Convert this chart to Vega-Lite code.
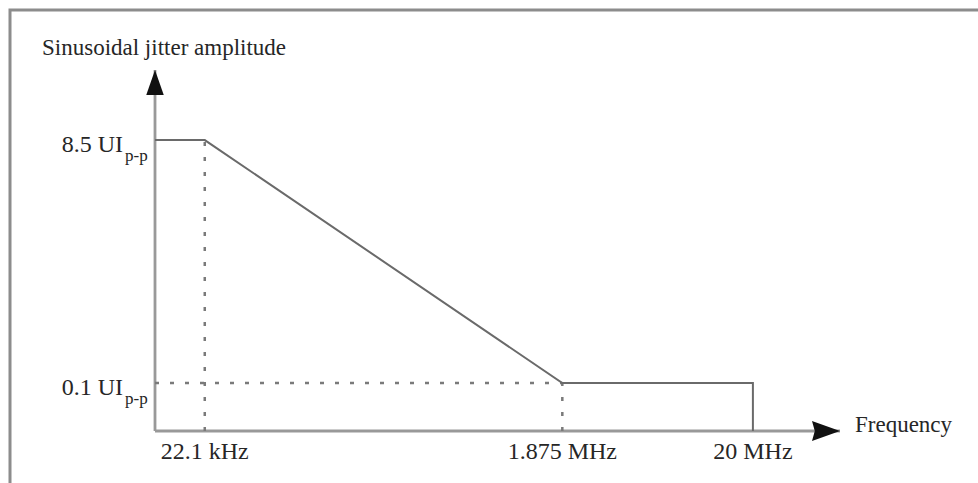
{
  "$schema": "https://vega.github.io/schema/vega-lite/v6.json",
  "width": 968,
  "height": 473,
  "autosize": {"type": "none"},
  "padding": {"left": 10, "top": 10, "right": 0, "bottom": 0},
  "background": "white",
  "config": {
    "view": {"stroke": "#8c8c8c", "strokeWidth": 3, "strokeDash": [968, 1441, 473], "strokeCap": "square"},
    "text": {"font": "Liberation Serif", "fill": "#262626"}
  },
  "datasets": {
    "axes": [
      {"f": 11912, "a": 0.0416, "f2": 11912, "a2": 30.6},
      {"f": 11912, "a": 0.0416, "f2": 59000000, "a2": 0.0416}
    ],
    "guides": [
      {"f": 22100, "a": 0.0416, "f2": 22100, "a2": 8.5},
      {"f": 11912, "a": 0.1, "f2": 1875000, "a2": 0.1},
      {"f": 1875000, "a": 0.0416, "f2": 1875000, "a2": 0.1}
    ],
    "mask": [
      {"i": 0, "f": 11912, "a": 8.5},
      {"i": 1, "f": 22100, "a": 8.5},
      {"i": 2, "f": 1875000, "a": 0.1},
      {"i": 3, "f": 20000000, "a": 0.1},
      {"i": 4, "f": 20000000, "a": 0.0416}
    ],
    "ytip": [{"f": 11912, "a": 30.6}],
    "xtip": [{"f": 59000000, "a": 0.0416}],
    "ylabels": [
      {"f": 11912, "a": 8.5, "main": "8.5 UI", "sub": "p-p"},
      {"f": 11912, "a": 0.1, "main": "0.1 UI", "sub": "p-p"}
    ],
    "xlabels": [
      {"f": 22100, "a": 0.0416, "label": "22.1 kHz"},
      {"f": 1875000, "a": 0.0416, "label": "1.875 MHz"},
      {"f": 20000000, "a": 0.0416, "label": "20 MHz"}
    ],
    "ytitle": [{"f": 11912, "a": 30.6, "label": "Sinusoidal jitter amplitude"}],
    "xtitle": [{"f": 59000000, "a": 0.0416, "label": "Frequency"}]
  },
  "encoding": {
    "x": {"field": "f", "type": "quantitative", "scale": {"type": "log", "domain": [11912, 59000000], "range": [145, 830], "nice": false}, "axis": null},
    "y": {"field": "a", "type": "quantitative", "scale": {"type": "log", "domain": [0.0416, 30.6], "range": [421, 60], "nice": false}, "axis": null}
  },
  "layer": [
    {
      "data": {"name": "axes"},
      "mark": {"type": "rule", "color": "#999999", "strokeWidth": 2.8},
      "encoding": {"x2": {"field": "f2"}, "y2": {"field": "a2"}}
    },
    {
      "data": {"name": "guides"},
      "mark": {"type": "rule", "color": "#7a7a7a", "strokeWidth": 2.5, "strokeDash": [4, 11]},
      "encoding": {"x2": {"field": "f2"}, "y2": {"field": "a2"}}
    },
    {
      "data": {"name": "mask"},
      "mark": {"type": "line", "color": "#6a6a6a", "strokeWidth": 2},
      "encoding": {"order": {"field": "i", "type": "quantitative"}}
    },
    {
      "data": {"name": "ytip"},
      "mark": {"type": "point", "filled": true, "opacity": 1, "color": "#111111", "size": 625, "shape": "M0,0L0.7,2L-0.7,2Z"},
      "encoding": {}
    },
    {
      "data": {"name": "xtip"},
      "mark": {"type": "point", "filled": true, "opacity": 1, "color": "#111111", "size": 784, "shape": "M0,0L-2,0.72L-1.8,0L-2,-0.72Z"},
      "encoding": {}
    },
    {
      "data": {"name": "ylabels"},
      "mark": {"type": "text", "align": "right", "baseline": "alphabetic", "dx": -32, "dy": 12, "fontSize": 24},
      "encoding": {"text": {"field": "main"}}
    },
    {
      "data": {"name": "ylabels"},
      "mark": {"type": "text", "align": "left", "baseline": "alphabetic", "dx": -30, "dy": 21, "fontSize": 17},
      "encoding": {"text": {"field": "sub"}}
    },
    {
      "data": {"name": "xlabels"},
      "mark": {"type": "text", "align": "center", "baseline": "alphabetic", "dy": 28, "fontSize": 24},
      "encoding": {"text": {"field": "label"}}
    },
    {
      "data": {"name": "ytitle"},
      "mark": {"type": "text", "align": "left", "baseline": "alphabetic", "dx": -113, "dy": -15, "fontSize": 23},
      "encoding": {"text": {"field": "label"}}
    },
    {
      "data": {"name": "xtitle"},
      "mark": {"type": "text", "align": "left", "baseline": "alphabetic", "dx": 15, "dy": 1, "fontSize": 23},
      "encoding": {"text": {"field": "label"}}
    }
  ]
}
